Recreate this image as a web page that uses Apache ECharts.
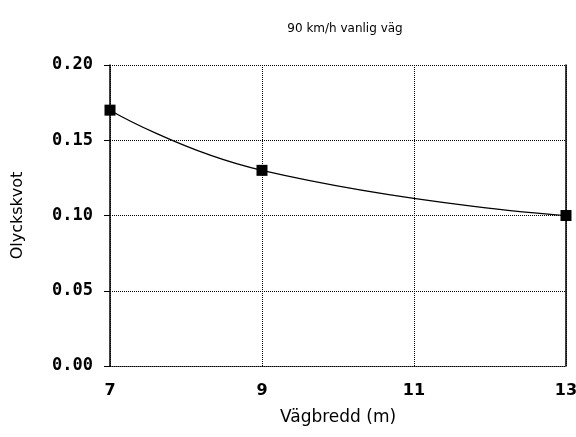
<!DOCTYPE html>
<html><head><meta charset="utf-8">
<script src="https://cdn.jsdelivr.net/npm/echarts@6/dist/echarts.min.js"></script>
<style>html,body{margin:0;padding:0;background:#fff}#c{width:576px;height:437px}</style>
</head><body><div id="c"></div>
<script>
var titleText = '90 km/h vanlig väg';
var xName = 'Vägbredd (m)';
var yName = 'Olyckskvot';
var xCategories = ['7','8','9','10','11','12','13'];
var widths = ['7','9','13'];
var ratios = [0.17, 0.13, 0.10];

var chart = echarts.init(document.getElementById('c'), null, {renderer:'canvas'});
var font = 'DejaVu Sans Mono';
chart.setOption({
  animation:false,
  backgroundColor:'#fff',
  title:{text:titleText, left:340, top:18, textAlign:'center',
    textStyle:{fontFamily:'DejaVu Sans', fontSize:12, fontWeight:'normal', color:'#000'}},
  grid:{left:110, right:10, top:65, bottom:71, containLabel:false, outerBoundsMode:'none'},
  xAxis:{type:'category', data:xCategories, boundaryGap:false,
    name:xName, nameLocation:'middle', nameGap:43,
    nameTextStyle:{fontFamily:'DejaVu Sans', fontSize:17, color:'#000'},
    axisLine:{show:true, lineStyle:{color:'#000', type:'dotted', width:1}},
    axisTick:{show:false},
    axisLabel:{interval:1, color:'#000', fontFamily:'DejaVu Sans', fontWeight:'bold', fontSize:16, margin:17},
    splitLine:{show:true, interval:1, lineStyle:{color:'#000', type:'dotted', width:1}}
  },
  yAxis:[{type:'value', min:0, max:0.2, interval:0.05,
    name:yName, nameLocation:'middle', nameGap:84, nameRotate:90,
    nameTextStyle:{fontFamily:'DejaVu Sans', fontSize:16, color:'#000'},
    axisLine:{show:true, lineStyle:{color:'#000', width:1.5}},
    axisTick:{show:true, length:6, lineStyle:{color:'#000'}},
    axisLabel:{color:'#000', fontFamily:font, fontWeight:'bold', fontSize:17, margin:17,
      formatter:function(v){return v.toFixed(2);}},
    splitLine:{show:true, lineStyle:{color:'#000', type:'dotted', width:1}}
  },{type:'value', min:0, max:0.2, position:'right',
    axisLine:{show:true, lineStyle:{color:'#000', width:1.5}},
    axisTick:{show:false}, axisLabel:{show:false}, splitLine:{show:false}
  }],
  series:[{type:'line', smooth:true, data:widths.map(function(w,i){return [w, ratios[i]];}),
    symbol:'rect', symbolSize:11, showSymbol:true,
    itemStyle:{color:'#000'}, lineStyle:{color:'#000', width:1.2}}]
});
</script></body></html>
